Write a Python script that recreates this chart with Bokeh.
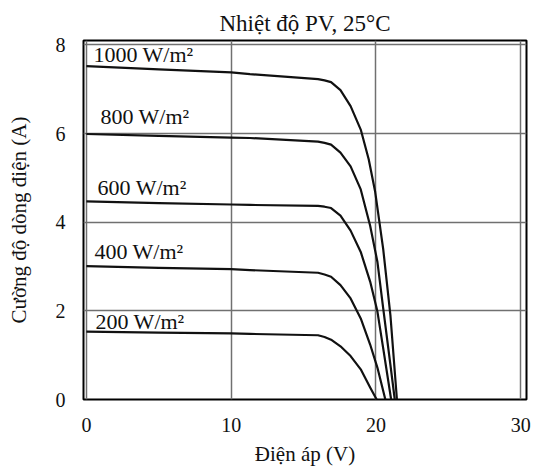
from bokeh.plotting import figure
from bokeh.models import Range1d, ColumnDataSource, FixedTicker
from bokeh.core.properties import value
from bokeh.embed import file_html
from bokeh.resources import INLINE

# ---- data ----
v_1000 = [0, 5, 10, 11.3, 16.0, 16.45, 16.9, 17.55, 18.25, 18.95, 19.5, 19.95, 20.5, 21.0, 21.45]
i_1000 = [7.52, 7.45, 7.38, 7.34, 7.23, 7.20, 7.16, 6.98, 6.62, 6.09, 5.42, 4.68, 3.40, 1.90, 0.0]

v_800 = [0, 5, 10, 11.3, 16.0, 16.45, 16.9, 17.55, 18.25, 18.95, 19.6, 20.1, 20.5, 21.0, 21.3]
i_800 = [5.99, 5.95, 5.91, 5.90, 5.82, 5.79, 5.75, 5.57, 5.26, 4.74, 3.92, 3.11, 2.06, 0.78, 0.0]

v_600 = [0, 5, 10, 11.3, 16.0, 16.45, 16.9, 17.55, 18.25, 18.95, 19.6, 20.1, 20.5, 21.05]
i_600 = [4.47, 4.43, 4.40, 4.39, 4.37, 4.35, 4.32, 4.15, 3.81, 3.33, 2.66, 1.99, 1.16, 0.0]

v_400 = [0, 5, 10, 11.3, 16.0, 16.45, 16.9, 17.55, 18.25, 18.95, 19.6, 20.1, 20.65]
i_400 = [3.01, 2.97, 2.94, 2.92, 2.86, 2.82, 2.77, 2.58, 2.28, 1.83, 1.24, 0.72, 0.0]

v_200 = [0, 5, 10, 11.3, 16.0, 16.45, 16.9, 17.55, 18.25, 18.95, 19.6, 20.05]
i_200 = [1.53, 1.51, 1.49, 1.48, 1.45, 1.41, 1.35, 1.20, 0.98, 0.68, 0.27, 0.0]

curve_labels = ["1000 W/m\u00b2", "800 W/m\u00b2", "600 W/m\u00b2", "400 W/m\u00b2", "200 W/m\u00b2"]
x_ticks = [0, 10, 20, 30]
y_ticks = [0, 2, 4, 6, 8]

title_text = "Nhi\u1ec7t \u0111\u1ed9 PV, 25\u00b0C"
x_title = "\u0110i\u1ec7n \u00e1p (V)"
y_title = "C\u01b0\u1eddng \u0111\u1ed9 d\u00f2ng \u0111i\u1ec7n (A)"

# ---- layout / style ----
label_x = [0.49, 0.97, 0.77, 0.56, 0.63]
label_y = [7.79, 6.38, 4.79, 3.33, 1.77]

FONT = "Liberation Serif"

p = figure(width=543, height=468, output_backend="svg", toolbar_location=None,
           x_range=Range1d(-0.2, 30.4), y_range=Range1d(0, 8.1),
           min_border_left=83, min_border_right=17, min_border_top=40, min_border_bottom=66)

p.title.text = title_text
p.title.align = "center"
p.title.text_font = FONT
p.title.text_font_size = "23px"
p.title.text_font_style = "normal"
p.title.text_color = "#111111"

p.outline_line_color = "black"
p.outline_line_width = 2
p.background_fill_color = "white"
p.border_fill_color = "white"

p.xaxis.ticker = FixedTicker(ticks=x_ticks)
p.yaxis.ticker = FixedTicker(ticks=y_ticks)
for ax in (p.xaxis[0], p.yaxis[0]):
    ax.axis_line_color = None
    ax.major_tick_line_color = None
    ax.minor_tick_line_color = None
    ax.major_label_text_font = FONT
    ax.major_label_text_font_size = "20px"
    ax.major_label_text_color = "#111111"
    ax.axis_label_text_font = FONT
    ax.axis_label_text_font_size = "21px"
    ax.axis_label_text_font_style = "normal"
    ax.axis_label_text_color = "#111111"

p.xaxis.axis_label = x_title
p.yaxis.axis_label = y_title
p.xaxis.major_label_standoff = 12
p.xaxis.axis_label_standoff = 7
p.yaxis.major_label_standoff = 12
p.yaxis.axis_label_standoff = 22

p.grid.grid_line_color = "#707070"
p.grid.grid_line_width = 1.5

for vs, cs in [(v_1000, i_1000), (v_800, i_800), (v_600, i_600), (v_400, i_400), (v_200, i_200)]:
    p.line(vs, cs, line_color="#111111", line_width=2.2, line_join="round")

src = ColumnDataSource(dict(x=label_x, y=label_y, t=curve_labels))
p.text(x="x", y="y", text="t", source=src, text_font=value(FONT), text_font_size="22px",
       text_align="left", text_baseline="middle", text_color="#111111")

open("out.html", "w").write(file_html(p, INLINE))
